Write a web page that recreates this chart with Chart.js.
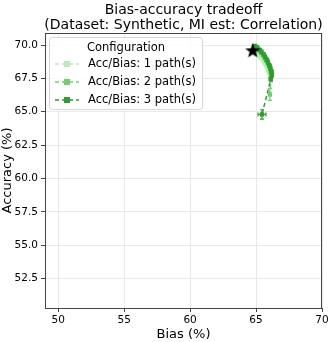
<!DOCTYPE html>
<html>
<head>
<meta charset="utf-8">
<script src="https://cdn.jsdelivr.net/npm/chart.js@4.4.0/dist/chart.umd.min.js"></script>
<style>
  html, body { margin: 0; padding: 0; background: #fff; }
</style>
</head>
<body>
<canvas id="chart" width="332" height="342"></canvas>
<script>
// tick labels
const xTicks = [50, 55, 60, 65, 70];
const yTicks = [52.5, 55, 57.5, 60, 62.5, 65, 67.5, 70];

const seriesLabels = ['Acc/Bias: 1 path(s)', 'Acc/Bias: 2 path(s)', 'Acc/Bias: 3 path(s)'];
const seriesColors = ['#b8eeb2', '#6fcf6f', '#2b9e2b'];

// 1 path(s)
const bias1 = [64.85, 65.0, 65.15, 65.3, 65.42, 65.55, 65.65, 65.75, 65.85, 65.92, 66.0, 66.05];
const acc1 = [69.65, 69.5, 69.35, 69.2, 69.05, 68.9, 68.72, 68.55, 68.35, 68.15, 67.95, 67.75];
const biasErr1 = [0.15, 0.12, 0.15, 0.12, 0.15, 0.12, 0.15, 0.12, 0.15, 0.12, 0.15, 0.12];
const accErr1 = [0.15, 0.18, 0.15, 0.18, 0.15, 0.18, 0.15, 0.18, 0.15, 0.18, 0.15, 0.18];

// 2 path(s)
const bias2 = [64.95, 65.12, 65.28, 65.42, 65.56, 65.68, 65.8, 65.9, 65.98, 66.05, 66.1, 66.15, 66.05];
const acc2 = [69.85, 69.7, 69.55, 69.4, 69.2, 69.0, 68.8, 68.6, 68.4, 68.2, 68.0, 67.8, 66.3];
const biasErr2 = [0.12, 0.15, 0.12, 0.15, 0.12, 0.15, 0.12, 0.15, 0.12, 0.15, 0.12, 0.15, 0.1];
const accErr2 = [0.18, 0.15, 0.18, 0.15, 0.18, 0.15, 0.18, 0.15, 0.18, 0.15, 0.18, 0.15, 0.45];

// 3 path(s)
const bias3 = [64.9, 65.08, 65.25, 65.4, 65.55, 65.68, 65.8, 65.9, 66.0, 66.08, 66.15, 66.18, 66.12, 65.45];
const acc3 = [69.9, 69.78, 69.62, 69.45, 69.28, 69.08, 68.88, 68.68, 68.45, 68.22, 68.0, 67.75, 67.45, 64.8];
const biasErr3 = [0.15, 0.12, 0.15, 0.12, 0.15, 0.12, 0.15, 0.12, 0.15, 0.12, 0.15, 0.12, 0.12, 0.3];
const accErr3 = [0.15, 0.18, 0.15, 0.18, 0.15, 0.18, 0.15, 0.18, 0.15, 0.18, 0.15, 0.18, 0.2, 0.35];

// reference point (star)
const starBias = [64.75];
const starAcc = [69.6];

const toPoints = (xs, ys, xe, ye) => xs.map((x, i) => ({ x: x, y: ys[i], xErr: xe ? xe[i] : 0, yErr: ye ? ye[i] : 0 }));

// filled five-pointed star for the reference marker
const starImg = document.createElement('canvas');
starImg.width = 18;
starImg.height = 18;
(function () {
    const g = starImg.getContext('2d');
    g.beginPath();
    for (let i = 0; i < 10; i++) {
        const r = i % 2 === 0 ? 8 : 3.3;
        const a = -Math.PI / 2 + i * Math.PI / 5;
        const px = 9 + r * Math.cos(a);
        const py = 9.6 + r * Math.sin(a);
        if (i === 0) g.moveTo(px, py); else g.lineTo(px, py);
    }
    g.closePath();
    g.fillStyle = '#000';
    g.fill();
})();

const font = 'DejaVu Sans';

const makeSeries = (i, pts) => ({
    label: seriesLabels[i],
    data: pts,
    borderColor: seriesColors[i],
    backgroundColor: seriesColors[i],
    borderWidth: 1.5,
    borderDash: [4, 3],
    pointStyle: 'rect',
    pointRadius: 3,
    pointBorderWidth: 0,
    showLine: true,
    order: 3 - i,   // darker series on top
    errColor: seriesColors[i]
});

// error bars drawn through the scales
const errorBars = {
    id: 'errorBars',
    beforeDatasetsDraw(chart) {
        const ctx = chart.ctx;
        const xs = chart.scales.x, ys = chart.scales.y;
        chart.data.datasets.forEach(ds => {
            if (!ds.errColor) return;
            ctx.save();
            ctx.strokeStyle = ds.errColor;
            ctx.lineWidth = 1.2;
            ds.data.forEach(p => {
                const cx = xs.getPixelForValue(p.x), cy = ys.getPixelForValue(p.y);
                const x0 = xs.getPixelForValue(p.x - p.xErr), x1 = xs.getPixelForValue(p.x + p.xErr);
                const y0 = ys.getPixelForValue(p.y - p.yErr), y1 = ys.getPixelForValue(p.y + p.yErr);
                ctx.beginPath();
                ctx.moveTo(x0, cy); ctx.lineTo(x1, cy);
                ctx.moveTo(cx, y0); ctx.lineTo(cx, y1);
                ctx.moveTo(x0, cy - 2); ctx.lineTo(x0, cy + 2);
                ctx.moveTo(x1, cy - 2); ctx.lineTo(x1, cy + 2);
                ctx.moveTo(cx - 2, y0); ctx.lineTo(cx + 2, y0);
                ctx.moveTo(cx - 2, y1); ctx.lineTo(cx + 2, y1);
                ctx.stroke();
            });
            ctx.restore();
        });
    }
};

// frame, title and legend box
const decorations = {
    id: 'decorations',
    afterDraw(chart) {
        const ctx = chart.ctx;
        const a = chart.chartArea;
        ctx.save();
        ctx.strokeStyle = '#444';
        ctx.lineWidth = 1;
        ctx.strokeRect(a.left + 0.5, a.top + 0.5, a.right - a.left - 1, a.bottom - a.top);

        // title
        const cx = (a.left + a.right) / 2;
        ctx.fillStyle = '#000';
        ctx.font = '14px "' + font + '"';
        ctx.textAlign = 'center';
        ctx.textBaseline = 'middle';
        ctx.fillText('Bias-accuracy tradeoff', cx, 10);
        ctx.fillText('(Dataset: Synthetic, MI est: Correlation)', cx, 25);

        // legend
        const lx = a.left + 4, ly = a.top + 4, lw = 153, lh = 72;
        ctx.beginPath();
        ctx.roundRect(lx + 0.5, ly + 0.5, lw, lh, 3);
        ctx.fillStyle = 'rgba(255,255,255,0.85)';
        ctx.fill();
        ctx.strokeStyle = '#d6d6d6';
        ctx.stroke();
        ctx.fillStyle = '#000';
        ctx.font = '11.5px "' + font + '"';
        ctx.fillText('Configuration', lx + 77, ly + 11);
        ctx.textAlign = 'left';
        seriesLabels.forEach((lab, i) => {
            const yy = ly + 27 + i * 18;
            ctx.strokeStyle = seriesColors[i];
            ctx.lineWidth = 1.5;
            ctx.setLineDash([4, 3]);
            ctx.beginPath();
            ctx.moveTo(lx + 6, yy);
            ctx.lineTo(lx + 30, yy);
            ctx.stroke();
            ctx.setLineDash([]);
            ctx.fillStyle = seriesColors[i];
            ctx.fillRect(lx + 15, yy - 3, 6, 6);
            ctx.fillStyle = '#000';
            ctx.fillText(lab, lx + 39, yy);
        });
        ctx.restore();
    }
};

new Chart(document.getElementById('chart').getContext('2d'), {
    type: 'scatter',
    data: {
        datasets: [
            {
                label: 'reference',
                data: toPoints(starBias, starAcc),
                pointStyle: starImg,
                pointRadius: 9,
                order: 0
            },
            makeSeries(0, toPoints(bias1, acc1, biasErr1, accErr1)),
            makeSeries(1, toPoints(bias2, acc2, biasErr2, accErr2)),
            makeSeries(2, toPoints(bias3, acc3, biasErr3, accErr3))
        ]
    },
    options: {
        responsive: false,
        animation: false,
        layout: { padding: { top: 33, right: 10, left: 0, bottom: 0 } },
        plugins: {
            legend: { display: false },
            tooltip: { enabled: false }
        },
        scales: {
            x: {
                type: 'linear',
                min: 49,
                max: 70,
                afterBuildTicks: s => { s.ticks = xTicks.map(v => ({ value: v })); },
                afterFit: s => { s.height = 34; },
                ticks: { color: '#000', font: { family: font, size: 10.5 }, padding: 2, maxRotation: 0 },
                grid: { color: '#e8e8e8', tickColor: '#444', tickLength: 4 },
                border: { display: false },
                title: { display: true, text: 'Bias (%)', color: '#000', font: { family: font, size: 13 }, padding: 0 }
            },
            y: {
                type: 'linear',
                min: 50.3,
                max: 70.9,
                afterBuildTicks: s => { s.ticks = yTicks.map(v => ({ value: v })); },
                afterFit: s => { s.width = 45; },
                ticks: { color: '#000', font: { family: font, size: 10.5 }, padding: 3, callback: v => v.toFixed(1) },
                grid: { color: '#e8e8e8', tickColor: '#444', tickLength: 4 },
                border: { display: false },
                title: { display: true, text: 'Accuracy (%)', color: '#000', font: { family: font, size: 13 }, padding: 0 }
            }
        }
    },
    plugins: [errorBars, decorations]
});
</script>
</body>
</html>
